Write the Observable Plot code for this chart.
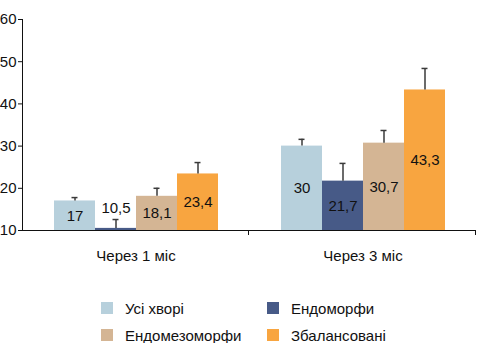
<!DOCTYPE html>
<html>
<head>
<meta charset="utf-8">
<script src="https://cdn.jsdelivr.net/npm/d3@7"></script>
<script src="https://cdn.jsdelivr.net/npm/@observablehq/plot@0.6"></script>
<style>
  body { margin: 0; background: #fff; font-family: "Liberation Sans Narrow", "Liberation Sans", sans-serif; }
  #chart { width: 478px; }
  .legend { display: grid; grid-template-columns: 166px auto; row-gap: 11px; padding-left: 101px; margin-top: 30px; font-size: 15px; color: #111; }
  .legend div { display: flex; align-items: center; height: 16px; }
  .legend span.sw { width: 12px; height: 12px; margin-right: 12px; display: inline-block; }
</style>
</head>
<body>
<div id="chart"></div>
<script>
const periods = ["Через 1 міс", "Через 3 міс"];
const series = ["Усі хворі", "Ендоморфи", "Ендомезоморфи", "Збалансовані"];
const colors = ["#b7d0dc", "#475a87", "#d4b594", "#f8a540"];
const values1 = [17, 10.5, 18.1, 23.4];
const values3 = [30, 21.7, 30.7, 43.3];
const errTop1 = [17.8, 12.6, 20.0, 26.1];
const errTop3 = [31.6, 25.9, 33.7, 48.4];
const labels1 = ["17", "10,5", "18,1", "23,4"];
const labels3 = ["30", "21,7", "30,7", "43,3"];
const yTicks = [10, 20, 30, 40, 50, 60];

const data = [];
[[values1, errTop1, labels1], [values3, errTop3, labels3]].forEach(([vals, errs, labs], p) => {
  series.forEach((s, i) => {
    const v = vals[i];
    data.push({
      period: periods[p], series: s, value: v, err: errs[i], label: labs[i],
      ly: v < 12 ? errs[i] + 2.6 : (v + 10) / 2
    });
  });
});

const font = '"Liberation Sans Narrow", "Liberation Sans", sans-serif';
const plot = Plot.plot({
  width: 478, height: 270,
  marginLeft: 22, marginRight: 2, marginTop: 19, marginBottom: 40,
  style: { fontFamily: font, fontSize: "14px", color: "#111", background: "#fff" },
  fx: { domain: periods, padding: 0, label: null },
  x: { domain: series, paddingInner: 0, paddingOuter: 0.735, axis: null },
  y: { domain: [10, 60], axis: null },
  color: { domain: series, range: colors },
  marks: [
    Plot.barY(data, { fx: "period", x: "series", y1: 10, y2: "value", fill: "series" }),
    Plot.ruleX(data, { fx: "period", x: "series", y1: "value", y2: "err", stroke: "#3a3a3a", strokeWidth: 1.5 }),
    Plot.tickY(data, { fx: "period", x: "series", y: "err", stroke: "#3a3a3a", strokeWidth: 1.5, insetLeft: 17.5, insetRight: 17.5 }),
    Plot.text(data, { fx: "period", x: "series", y: "ly", text: "label", fill: "#111", fontSize: 15 }),
    Plot.ruleY([10], { stroke: "#111" }),
    Plot.frame({ anchor: "left", facetAnchor: "left", stroke: "#111" }),
    Plot.axisY({ ticks: yTicks, tickSize: 4, tickPadding: 2, fontSize: 15, facetAnchor: "left", anchor: "left", label: null }),
    Plot.axisFx({ anchor: "bottom", tickSize: 0, tickPadding: 20, fontSize: 15, label: null })
  ]
});
document.getElementById("chart").appendChild(plot);

// boundary ticks on the category axis
const svg = d3.select(plot.tagName === "svg" ? plot : plot.querySelector("svg"));
const fx = plot.scale("fx");
const yS = plot.scale("y");
const y0 = yS.apply(10);
periods.forEach(p => {
  const xr = fx.apply(p) + fx.bandwidth;
  svg.append("line").attr("x1", xr - 0.5).attr("x2", xr - 0.5).attr("y1", y0).attr("y2", y0 + 5).attr("stroke", "#111");
});
</script>
<div class="legend">
  <div><span class="sw" style="background:#b7d0dc"></span>Усі хворі</div>
  <div><span class="sw" style="background:#475a87"></span>Ендоморфи</div>
  <div><span class="sw" style="background:#d4b594"></span>Ендомезоморфи</div>
  <div><span class="sw" style="background:#f8a540"></span>Збалансовані</div>
</div>
</body>
</html>
